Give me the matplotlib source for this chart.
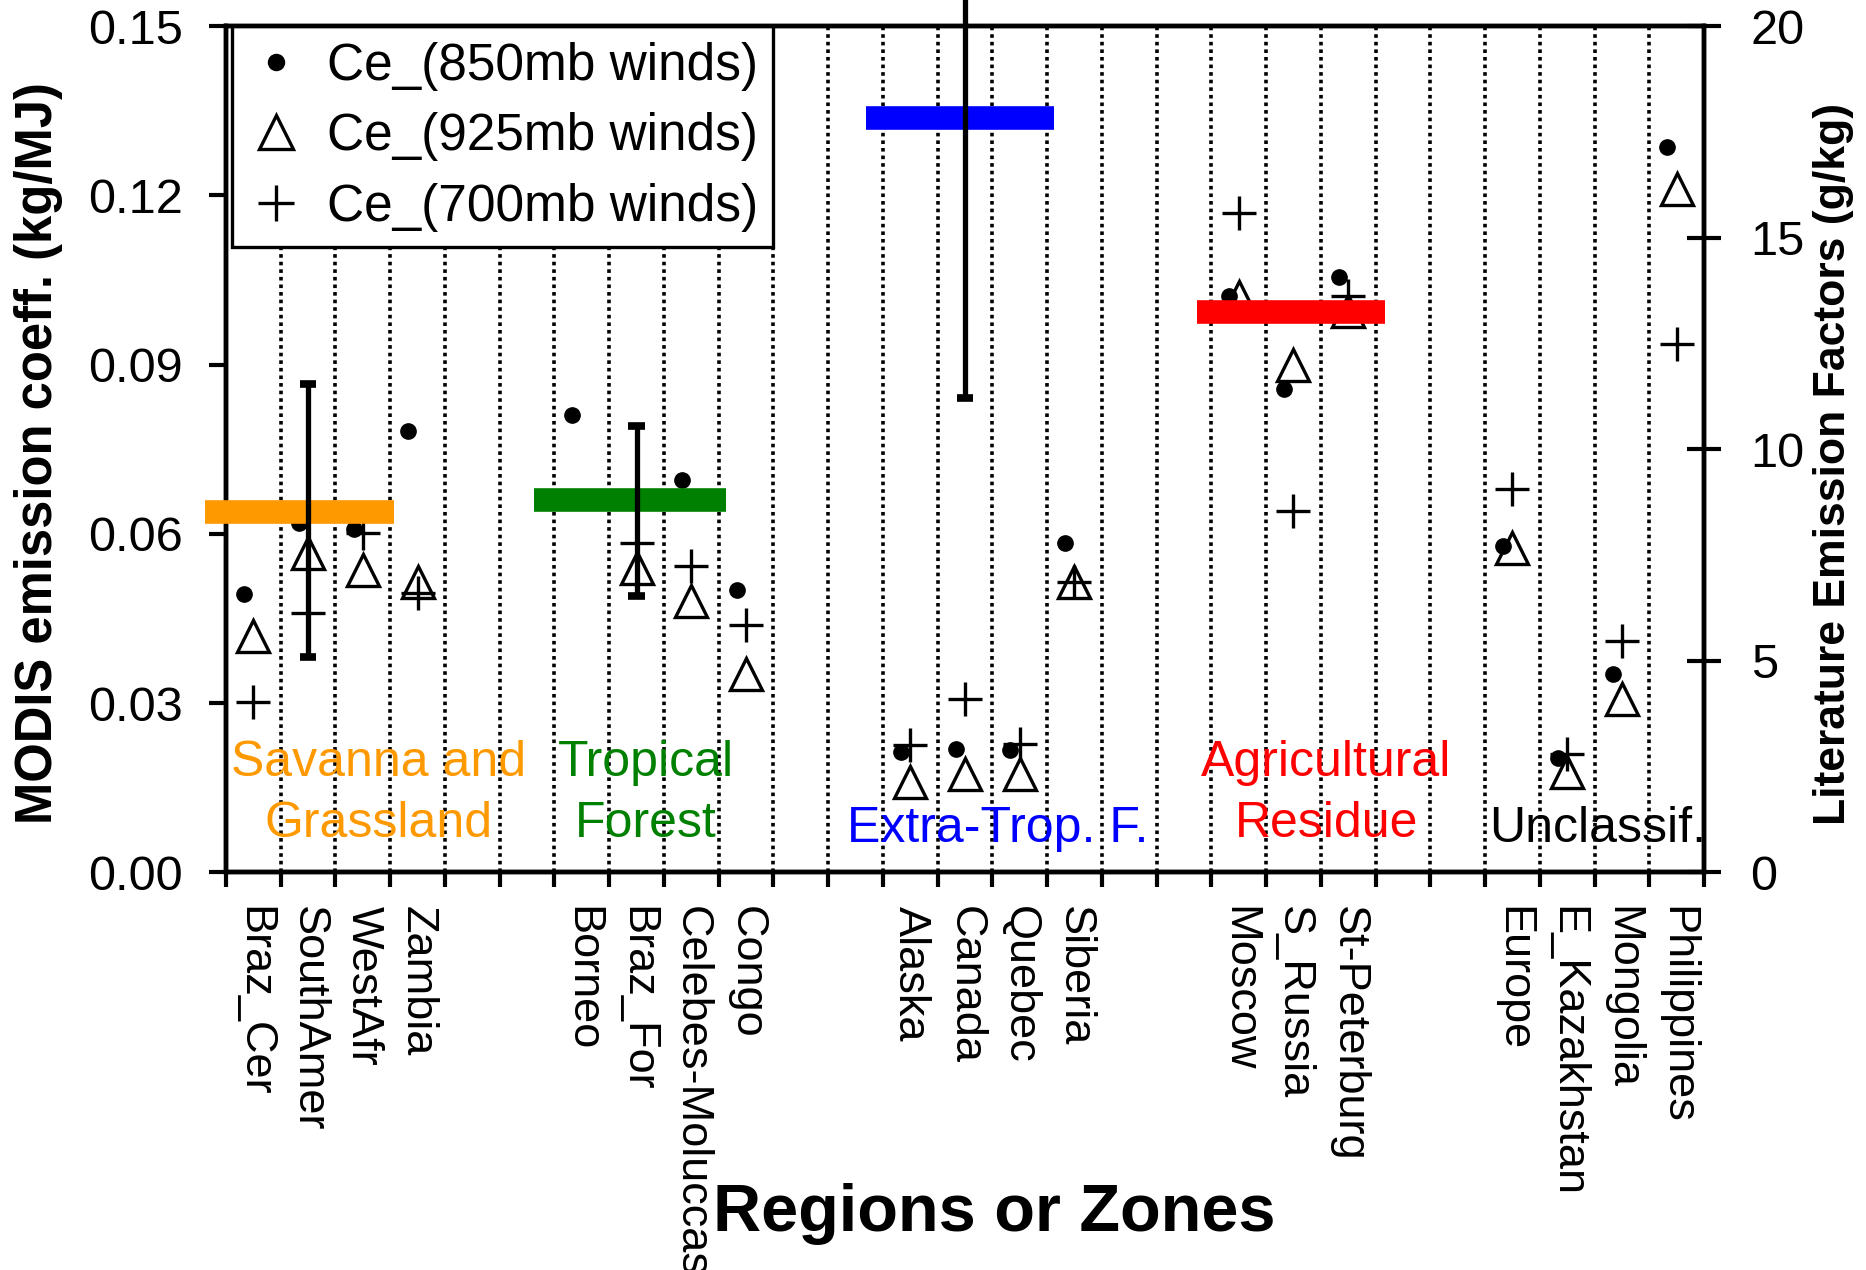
import numpy as np
import matplotlib
matplotlib.use("Agg")
import matplotlib.pyplot as plt
from matplotlib import font_manager

plt.rcParams['font.family'] = ['Liberation Sans', 'DejaVu Sans']

nan = np.nan
categories = ['Braz_Cer', 'SouthAmer', 'WestAfr', 'Zambia', '', '',
              'Borneo', 'Braz_For', 'Celebes-Moluccas', 'Congo', '', '',
              'Alaska', 'Canada', 'Quebec', 'Siberia', '', '',
              'Moscow', 'S_Russia', 'St-Peterburg', '', '',
              'Europe', 'E_Kazakhstan', 'Mongolia', 'Philippines']

# MODIS emission coefficients (kg/MJ)
ce_850 = [0.0493, 0.0619, 0.0608, 0.0783, nan, nan,
          0.0810, 0.0658, 0.0696, 0.0501, nan, nan,
          0.0213, 0.0219, 0.0216, 0.0583, nan, nan,
          0.1022, 0.0857, 0.1056, nan, nan,
          0.0578, 0.0202, 0.0352, 0.1285]
ce_925 = [0.0418, 0.0566, 0.0535, 0.0515, nan, nan,
          nan, 0.0539, 0.0480, 0.0351, nan, nan,
          0.0160, 0.0175, 0.0175, 0.0515, nan, nan,
          0.1020, 0.0899, 0.0995, nan, nan,
          0.0574, 0.0177, 0.0308, 0.1212]
ce_700 = [0.0302, 0.0459, 0.0601, 0.0495, nan, nan,
          nan, 0.0583, 0.0543, 0.0438, nan, nan,
          0.0225, 0.0307, 0.0228, 0.0514, nan, nan,
          0.1168, 0.0640, 0.1022, nan, nan,
          0.0679, 0.0210, 0.0410, 0.0937]

# Literature emission factors (g/kg) per biome
lit_values = [8.52, 8.79, 17.83, 13.24]
lit_xstart = [0.12, 6.13, 12.2, 18.24]
lit_xend = [3.57, 9.63, 15.63, 21.67]
lit_colors = ['#FF9900', '#008000', '#0000FF', '#FF0000']

# Literature ranges (g/kg)
range_x = [2, 8, 14]
range_low = [5.09, 6.52, 11.2]
range_high = [11.53, 10.55, 21.6]

group_labels = ['Savanna and\nGrassland', 'Tropical\nForest', 'Extra-Trop. F.',
                'Agricultural\nResidue', 'Unclassif.']
group_x = [3.28, 8.17, 14.6, 20.6, 25.55]
group_y = [0.0139, 0.0139, 0.0076, 0.0139, 0.0076]
group_colors = ['#FF9900', '#008000', '#0000FF', '#FF0000', '#000000']

left_ticks = [0.00, 0.03, 0.06, 0.09, 0.12, 0.15]
right_ticks = [0, 5, 10, 15, 20]

installed = {f.name for f in font_manager.fontManager.ttflist}
narrow = ['Liberation Sans Narrow', 'Liberation Sans'] if 'Liberation Sans Narrow' in installed \
    else ['Liberation Sans']
narrow_ok = 'Liberation Sans Narrow' in installed

x = np.arange(1, len(categories) + 1)

fig = plt.figure(figsize=(18.66, 12.70), dpi=100)
ax = fig.add_axes([0.1211, 0.3132, 0.7921, 0.6662])
ax2 = ax.twinx()

# dotted separators
ax.vlines(x[:-1] + 0.5, 0, 0.15, colors='black', linestyles=(0, (1, 1.1)),
          linewidth=2.6, zorder=1)

dot_off = -0.17
ax.plot(x + dot_off, ce_850, linestyle='none', marker='o', ms=11,
        color='black', zorder=3, label='Ce_(850mb winds)')
ax.plot(x, ce_925, linestyle='none', marker='^', ms=23, mfc='none',
        mec='black', mew=2.4, zorder=3, label='Ce_(925mb winds)')
ax.plot(x, ce_700, linestyle='none', marker='+', ms=25, mec='black',
        mew=2.4, zorder=3, label='Ce_(700mb winds)')

ax.set_xlim(0.5, len(categories) + 0.5)
ax.set_ylim(0, 0.15)
ax2.set_ylim(0, 20)

# literature bars and ranges on right axis
for v, xs, xe, c in zip(lit_values, lit_xstart, lit_xend, lit_colors):
    ax2.hlines(v, xs, xe, colors=c, linewidth=17, zorder=4, clip_on=False)
for xr, lo, hi in zip(range_x, range_low, range_high):
    ax2.vlines(xr, lo, hi, colors='black', linewidth=3.8, zorder=5, clip_on=False)
    ax2.hlines([lo, hi], xr - 0.15, xr + 0.15, colors='black', linewidth=5.5,
               zorder=5, clip_on=False)

for t, gx, gy, c in zip(group_labels, group_x, group_y, group_colors):
    ax.text(gx, gy, t, color=c, fontsize=36, ha='center', va='center',
            linespacing=1.42, zorder=6)

# ticks
ax.set_yticks(left_ticks)
ax.set_yticklabels(['%.2f' % t for t in left_ticks], fontsize=35)
ax.tick_params(axis='y', direction='out', length=12, width=3, pad=19)
ax2.set_yticks(right_ticks)
ax2.set_yticklabels([str(t) for t in right_ticks], fontsize=35)
ax2.tick_params(axis='y', direction='inout', length=25, width=3, pad=21)

ax.set_xticks(np.append(x - 0.5, x[-1] + 0.5))
ax.set_xticklabels([])
ax.tick_params(axis='x', which='major', direction='out', length=11, width=3)
lab_x = [xi for xi, c in zip(x, categories) if c]
lab_t = [c for c in categories if c]
ax.set_xticks(lab_x, minor=True)
ax.set_xticklabels(lab_t, minor=True, rotation=-90, fontsize=32.5, va='top', ha='center')
ax.tick_params(axis='x', which='minor', length=0, pad=24)

for a in (ax, ax2):
    for s in a.spines.values():
        s.set_linewidth(3.2)

leg = ax.legend(loc='upper left', bbox_to_anchor=(0.004, 1.0), borderaxespad=0,
                fontsize=37, frameon=True, fancybox=False, edgecolor='black',
                framealpha=1, handlelength=1.1, handletextpad=0.45,
                labelspacing=0.42, borderpad=0.3, markerscale=1.05)
leg.get_frame().set_linewidth(2.4)
leg.set_zorder(10)

fig.text(0.0204, 0.6433, 'MODIS emission coeff. (kg/MJ)', rotation=90,
         fontsize=36.5, fontweight='bold', ha='center', va='center')
fig.text(0.9828, 0.6346, 'Literature Emission Factors (g/kg)', rotation=90,
         fontsize=38 if narrow_ok else 32, fontweight='bold', family=narrow,
         ha='center', va='center')
fig.text(0.5327, 0.044, 'Regions or Zones', fontsize=48, fontweight='bold',
         ha='center', va='center')

fig.savefig('out.png', dpi=100)
